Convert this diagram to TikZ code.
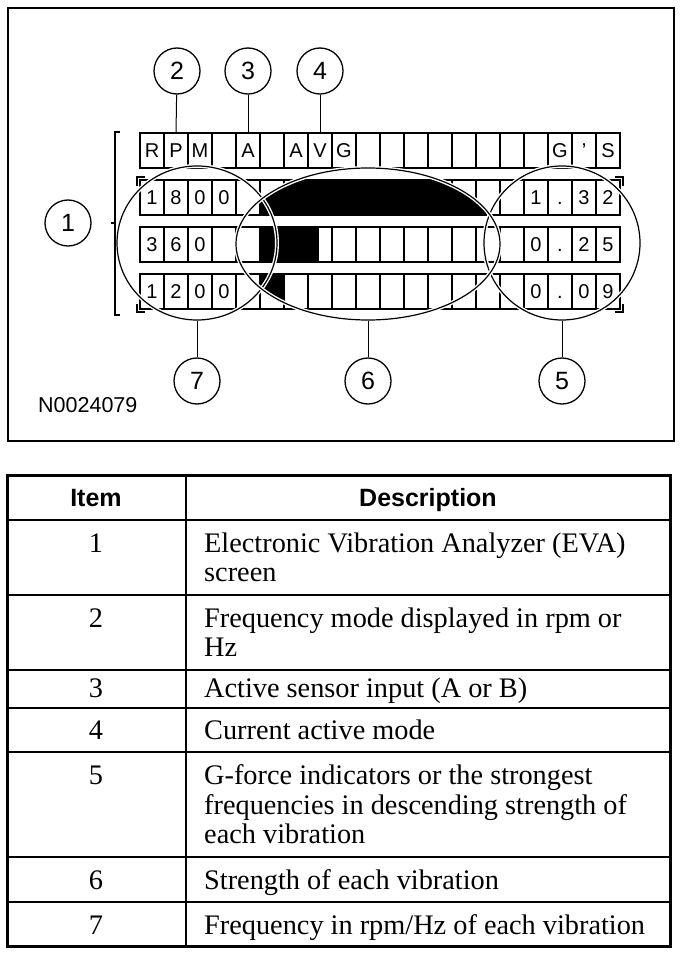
\documentclass[tikz,border=0pt]{standalone}
\usepackage{fontspec}
\setmainfont{Liberation Serif}
\newfontfamily\arial{Liberation Sans}
\usetikzlibrary{shapes.geometric,positioning}
\tikzset{
  cell/.style={draw, line width=1.6pt, minimum width=24pt, minimum height=35pt, inner sep=0pt, outer sep=0pt,
    font=\arial\fontsize{20}{20}\selectfont, text height=14.3pt, text depth=0pt},
  tag/.style={draw, circle, line width=1.3pt, minimum size=46pt, inner sep=0pt, font=\arial\fontsize{25}{25}\selectfont},
  ring/.style={draw, ellipse, line width=1.2pt, inner sep=0pt, preaction={draw=white, line width=4pt}},
  lead/.style={line width=1pt},
  itemno/.style={anchor=base, inner sep=0pt, font=\fontsize{28.3}{29.5}\selectfont},
  desc/.style={anchor=north west, inner sep=0pt, align=left, font=\fontsize{28.3}{29.5}\selectfont},
  head/.style={anchor=base, inner sep=0pt, font=\arial\bfseries\fontsize{25}{25}\selectfont}
}

\begin{document}
\begin{tikzpicture}[x=1pt, y=-1pt]
  \useasboundingbox (0,0) rectangle (688,960);
  % figure frame
  \draw[line width=2pt] (8,8) rectangle (674,441);
  % display: header row and three bar rows
  \foreach \t [count=\k] in {R,P,M,{},A,{},A,V,G,{},{},{},{},{},{},{},{},G,’,S}
    \node[cell] (t\k) at (128+24*\k,150.5) {\t};
  \foreach \t [count=\k] in {1,8,0,0,{},{},{},{},{},{},{},{},{},{},{},{},1,.,3,2}
    \node[cell] (a\k) at (128+24*\k,197.5) {\t};
  \foreach \t [count=\k] in {3,6,0,{},{},{},{},{},{},{},{},{},{},{},{},{},0,.,2,5}
    \node[cell] (b\k) at (128+24*\k,244.5) {\t};
  \foreach \t [count=\k] in {1,2,0,0,{},{},{},{},{},{},{},{},{},{},{},{},0,.,0,9}
    \node[cell] (c\k) at (128+24*\k,291.5) {\t};
  % bars, cut by the strength ring
  \begin{scope}
    \clip (368,244) ellipse [x radius=132, y radius=76];
    \fill (a6.north west) rectangle (a15.south east);
    \fill (b6.north west) rectangle ([xshift=-1pt]b8.south);
    \fill (c6.north west) rectangle (c6.south east);
  \end{scope}
  % corner marks of the bar block
  \draw[line width=1.8pt] (137,186) |- (145,177);
  \draw[line width=1.8pt] (623,186) |- (615,177);
  \draw[line width=1.8pt] (137,304) |- (145,312);
  \draw[line width=1.8pt] (623,304) |- (615,312);
  % rings
  \node[ring, minimum width=160pt, minimum height=154pt] (e7) at (197,243) {};
  \node[ring, minimum width=156pt, minimum height=154pt] (e5) at (562,243) {};
  \node[ring, minimum width=264pt, minimum height=152pt] (e6) at (368,244) {};
  % bracket of the screen
  \draw[line width=1.6pt] (120,132) -- (115,132) -- (115,315) -- (120,315);
  \draw[line width=1.6pt] (115,223) -- (111,223);
  % callouts
  \node[tag] (n1) at (68,223) {1};
  \node[tag] (n2) at (177,71) {2};
  \node[tag] (n3) at (248,71) {3};
  \node[tag] (n4) at (320,71) {4};
  \node[tag] (n7) at (197,381) {7};
  \node[tag] (n6) at (368,381) {6};
  \node[tag] (n5) at (562,381) {5};
  \draw[lead] (n2) -- (t2.north);
  \draw[lead] (n3) -- (t5.north);
  \draw[lead] (n4) -- (t8.north);
  \draw[lead] (n7) -- (e7.south);
  \draw[lead] (n6) -- (e6.south);
  \draw[lead] (n5) -- (e5.south);
  \node[anchor=base west, inner sep=0pt, font=\arial\fontsize{21.5}{21.5}\selectfont] (code) at (38,412) {N0024079};
  % legend table
  \draw[line width=3pt] (7,475) rectangle (670,946);
  \foreach \y in {520,595,670,708,752,857,902} \draw[line width=2.6pt] (7,\y) -- (670,\y);
  \draw[line width=2.6pt] (186,475) -- (186,946);
  \node[head] (hitem) at (96,506) {Item};
  \node[head] (hdesc) at (428,506) {Description};
  \foreach \n/\b/\d in {1/552/{Electronic Vibration Analyzer (EVA)\\screen},
      2/627/{Frequency mode displayed in rpm or\\Hz},
      3/697/{Active sensor input (A or B)},
      4/739/{Current active mode},
      5/784/{G-force indicators or the strongest\\frequencies in descending strength of\\each vibration},
      6/889/{Strength of each vibration},
      7/934/{Frequency in rpm/Hz of each vibration}} {
    \node[itemno] (i\n) at (96,\b) {\n};
    \node[desc] (d\n) at (204,\b-19.5) {\d};
  }
\end{tikzpicture}
\end{document}
